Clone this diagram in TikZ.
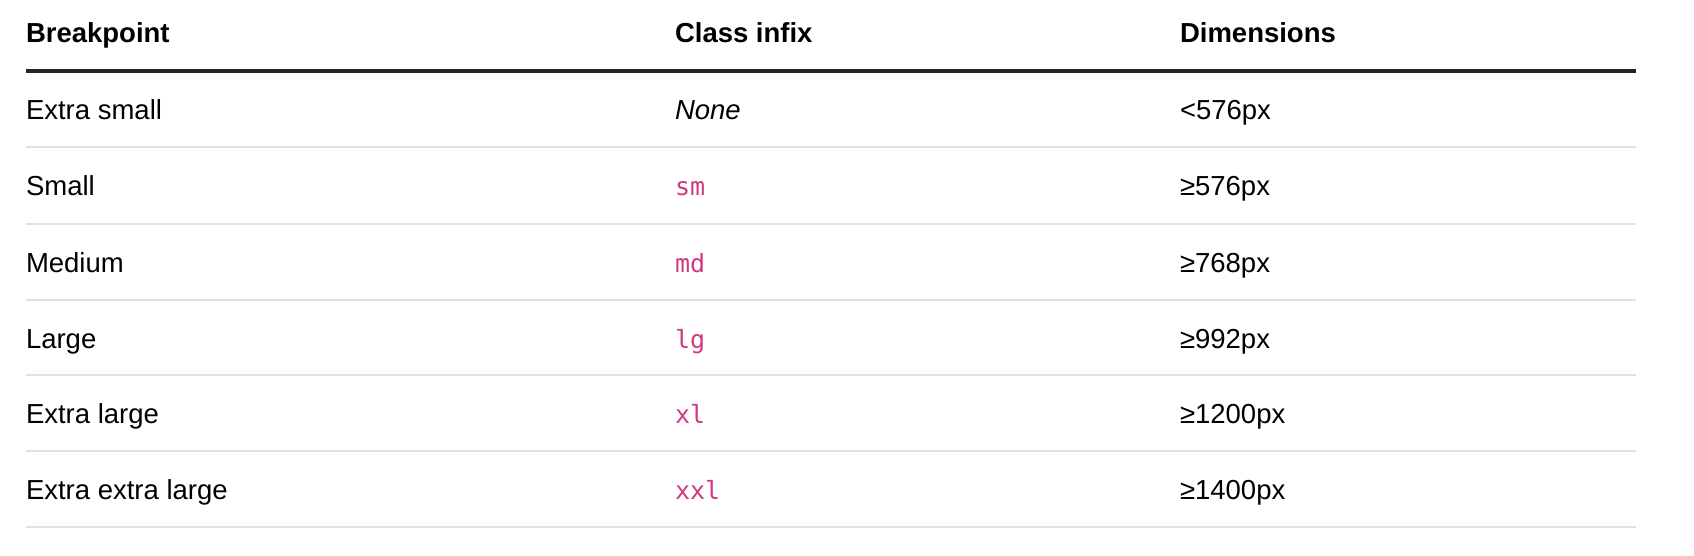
\documentclass[tikz,border=0pt]{standalone}
\usepackage{fontspec}
\setmainfont{Liberation Sans}
\newfontfamily\codefont{DejaVu Sans Mono}
\definecolor{bodytext}{HTML}{000000}
\definecolor{rule}{HTML}{DEE2E6}
\definecolor{headrule}{HTML}{212529}
\definecolor{codepink}{HTML}{D03A82}
\begin{document}
\begin{tikzpicture}[x=1pt,y=-1pt,
  cell/.style={anchor=base west,inner sep=0pt,outer sep=0pt,text=bodytext,font=\fontsize{27.5}{30}\selectfont},
  head/.style={cell,font=\fontsize{27.5}{30}\selectfont\bfseries},
  code/.style={cell,text=codepink,font=\fontsize{25}{28}\codefont},
  thin/.style={draw=rule,line width=2pt},
  thick/.style={draw=headrule,line width=3.7pt}]
\useasboundingbox (0,0) rectangle (1694,556);
% header
\node[head] (h1) at (26,42.3) {Breakpoint};
\node[head] (h2) at (675,42.3) {Class infix};
\node[head] (h3) at (1180,42.3) {Dimensions};
\coordinate (t0l) at (26,71);
\coordinate (t0r) at (1636,71);
\draw[thick] (t0l) -- (t0r);
% rows
\node[cell] (r1a) at (26,120) {Extra small};
\node[cell] (r1b) at (675,120) {\itshape None};
\node[cell] (r1c) at (1180,120) {<576px};
\node[cell] (r2a) at (26,196) {Small};
\node[code] (r2b) at (675,196) {sm};
\node[cell] (r2c) at (1180,196) {≥576px};
\node[cell] (r3a) at (26,272) {Medium};
\node[code] (r3b) at (675,272) {md};
\node[cell] (r3c) at (1180,272) {≥768px};
\node[cell] (r4a) at (26,348) {Large};
\node[code] (r4b) at (675,348) {lg};
\node[cell] (r4c) at (1180,348) {≥992px};
\node[cell] (r5a) at (26,423.5) {Extra large};
\node[code] (r5b) at (675,423.5) {xl};
\node[cell] (r5c) at (1180,423.5) {≥1200px};
\node[cell] (r6a) at (26,499.5) {Extra extra large};
\node[code] (r6b) at (675,499.5) {xxl};
\node[cell] (r6c) at (1180,499.5) {≥1400px};
% row rules
\foreach \i/\y in {1/147.5,2/223.5,3/299.5,4/375.4,5/451.3,6/527.2}{
  \coordinate (l\i l) at (26,\y);
  \coordinate (l\i r) at (1636,\y);
  \draw[thin] (l\i l) -- (l\i r);
}
\end{tikzpicture}
\end{document}
